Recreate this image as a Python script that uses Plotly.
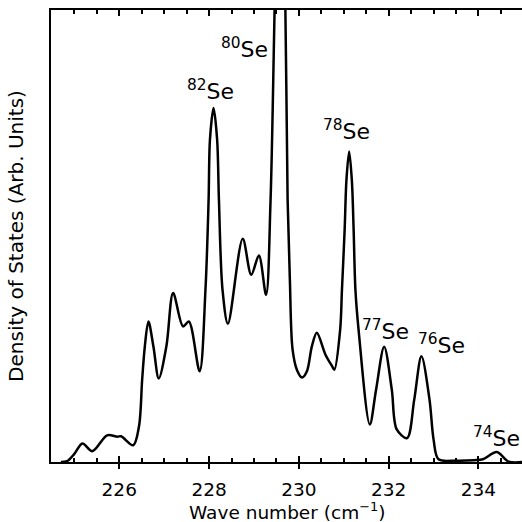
import plotly.graph_objects as go

# Wave number (cm^-1) and density of states (arb. units, 100 = top of frame)
wave = [224.70, 224.84, 225.00, 225.18, 225.40, 225.73, 225.96, 226.04, 226.31, 226.44,
        226.51, 226.57, 226.65, 226.76, 226.88, 227.05, 227.20, 227.42, 227.55, 227.79,
        227.92, 227.99, 228.02, 228.10, 228.18, 228.22, 228.30, 228.42, 228.75, 228.94,
        229.11, 229.27, 229.37, 229.46, 229.58, 229.70, 229.75, 229.80, 229.86, 229.96,
        230.07, 230.18, 230.29, 230.40, 230.59, 230.74, 230.79, 230.92, 230.96, 231.02,
        231.06, 231.12, 231.18, 231.22, 231.26, 231.33, 231.58, 231.72, 231.90, 232.07,
        232.18, 232.41, 232.57, 232.73, 232.91, 233.00, 233.11, 233.50, 233.90, 234.10,
        234.41, 234.67, 235.00]
dos = [0.0, 0.2, 1.8, 4.1, 2.4, 5.9, 5.6, 5.7, 3.7, 7.9,
       18.2, 25.6, 31.1, 25.6, 18.5, 25.6, 37.4, 30.0, 31.1, 20.1,
       38.1, 58.0, 71.3, 78.3, 71.3, 58.0, 38.1, 30.6, 49.4, 41.4,
       45.7, 37.0, 58.0, 100.0, 155.0, 100.0, 58.0, 40.3, 24.9, 20.3,
       18.7, 20.1, 25.6, 28.6, 23.8, 21.2, 20.4, 29.3, 38.1, 51.4,
       62.4, 68.7, 62.4, 51.4, 38.1, 29.3, 8.3, 16.0, 25.5, 16.0,
       7.2, 5.3, 13.8, 23.4, 13.8, 5.0, 0.6, 0.3, 0.4, 0.6,
       2.2, 0.1, 0.0]

# Isotope labels: mass number and label anchor (wave number, arb. units)
iso_mass = ["82", "80", "78", "77", "76", "74"]
iso_x = [228.03, 228.79, 231.07, 231.94, 233.18, 234.40]
iso_y = [82.3, 91.6, 73.5, 29.3, 26.0, 5.6]

xtick_vals = [226, 228, 230, 232, 234]

FONT = "DejaVu Sans"

fig = go.Figure()
fig.add_trace(go.Scatter(x=wave, y=dos, mode="lines",
                         line=dict(color="black", width=2.5, shape="spline", smoothing=0.9),
                         showlegend=False, hoverinfo="skip"))
# invisible trace to activate the second x axis (outside half of crossing ticks)
fig.add_trace(go.Scatter(x=[wave[0]], y=[0], xaxis="x2", mode="lines",
                         line=dict(width=0), showlegend=False, hoverinfo="skip"))

for m, x, y in zip(iso_mass, iso_x, iso_y):
    fig.add_annotation(x=x, y=y, xref="x", yref="y", showarrow=False,
                       text=f"<sup>{m}</sup>Se", font=dict(family=FONT, size=22, color="black"),
                       xanchor="center", yanchor="middle")

# x-axis title placed explicitly below the tick labels
fig.add_annotation(x=0.5, y=-0.108, xref="paper", yref="paper", showarrow=False,
                   text="Wave number (cm<sup>−1</sup>)", font=dict(family=FONT, size=18.5, color="black"),
                   xanchor="center", yanchor="middle")

xr = [224.48, 234.97]
fig.update_layout(
    width=522, height=522,
    margin=dict(l=51, r=0, t=10, b=60),
    paper_bgcolor="white", plot_bgcolor="white",
    font=dict(family=FONT, color="black"),
    xaxis=dict(range=xr, showgrid=False, zeroline=False,
               showline=True, linecolor="black", linewidth=2, mirror="allticks",
               ticks="inside", ticklen=6, tickwidth=2, tickcolor="black",
               tickvals=xtick_vals, showticklabels=False,
               minor=dict(ticks="inside", dtick=0.5, tick0=226, ticklen=4, tickwidth=2, tickcolor="black")),
    xaxis2=dict(range=xr, overlaying="x", side="bottom", showgrid=False, zeroline=False,
                showline=False, ticks="outside", ticklen=6, tickwidth=2, tickcolor="black",
                tickvals=xtick_vals, ticktext=[str(v) for v in xtick_vals],
                ticklabelstandoff=5,
                tickfont=dict(family=FONT, size=18.5, color="black")),
    yaxis=dict(range=[0, 100], showgrid=False, zeroline=False,
               showline=True, linecolor="black", linewidth=2, ticks="", showticklabels=False,
               title=dict(text="Density of States (Arb. Units)", font=dict(family=FONT, size=20),
                          standoff=20)),
)

fig.write_html("out.html")
